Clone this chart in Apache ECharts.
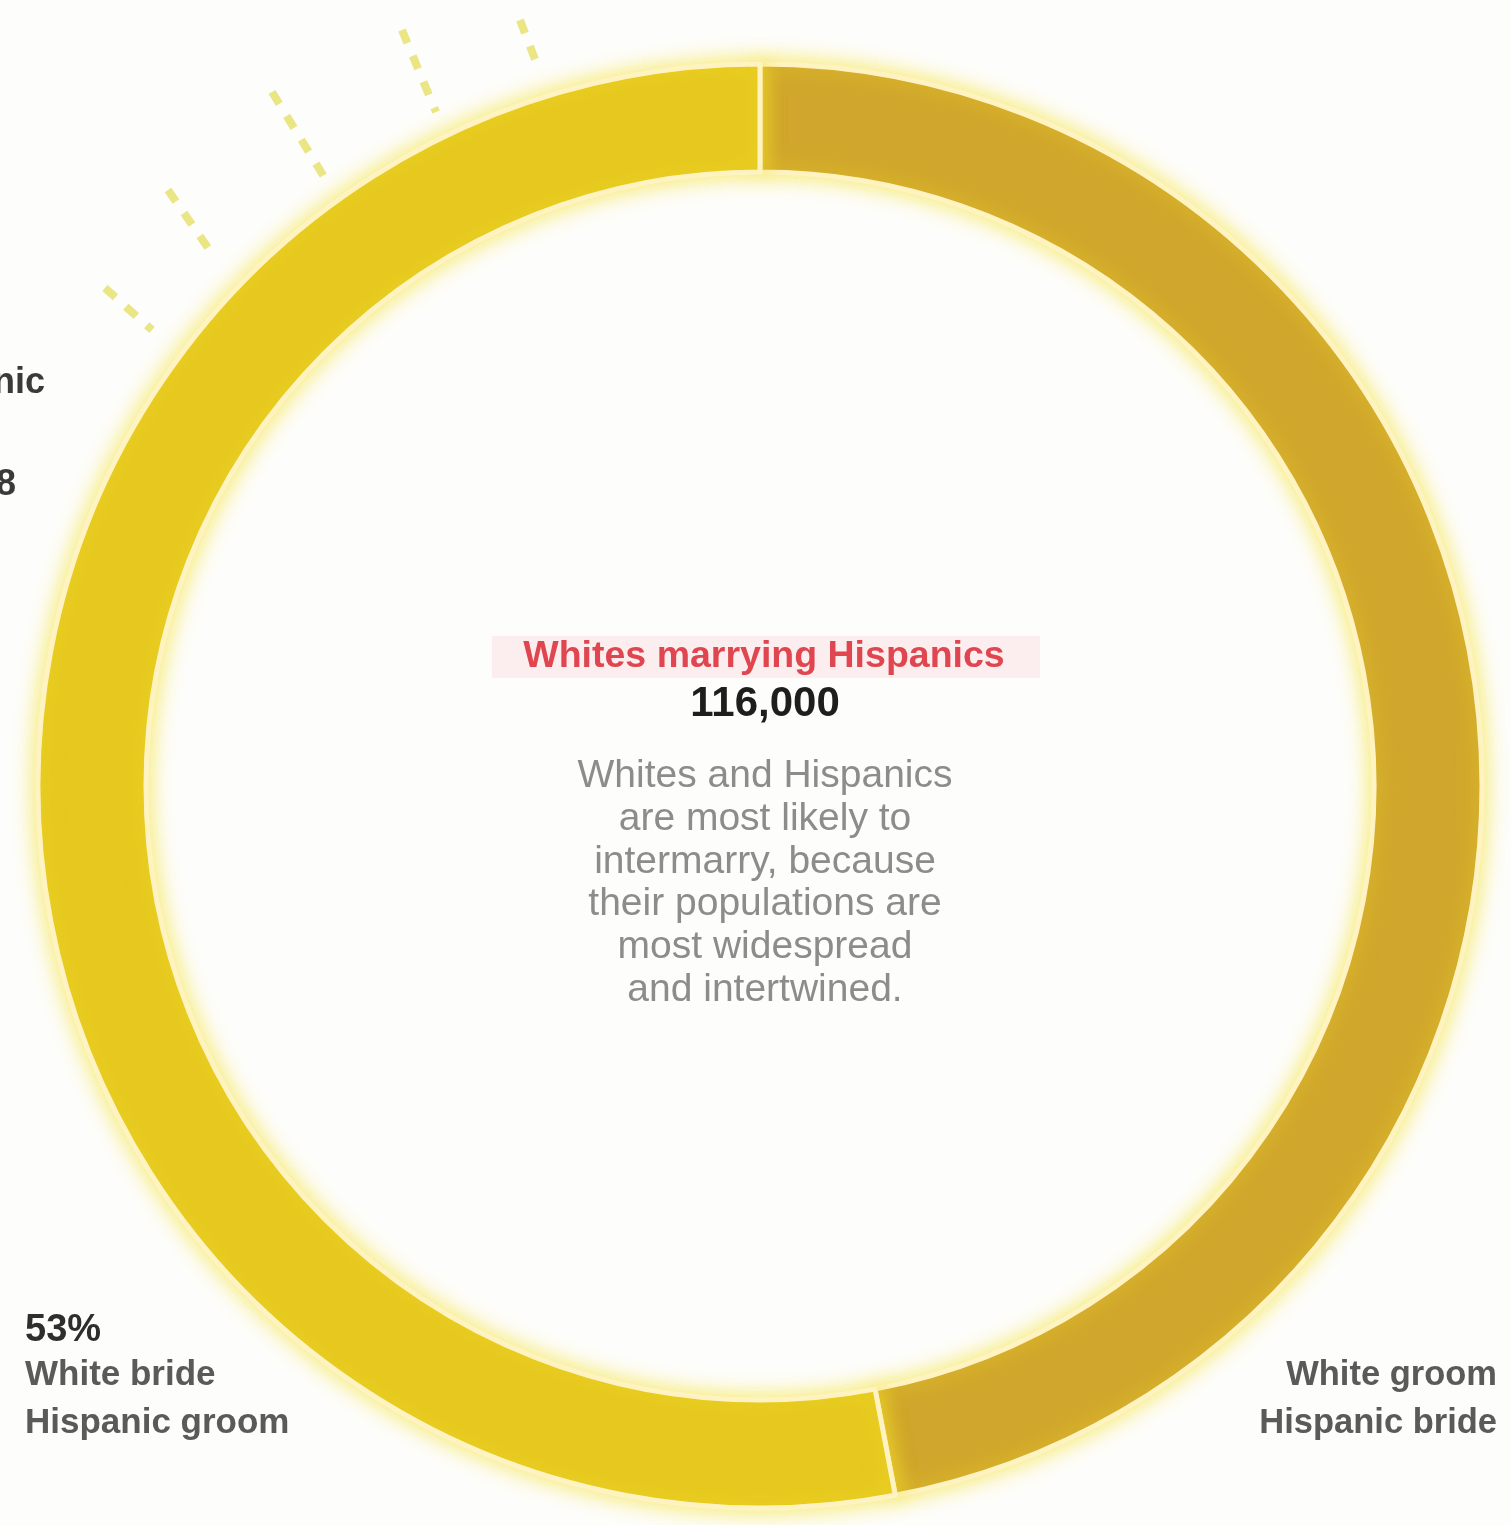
<!DOCTYPE html>
<html>
<head>
<meta charset="utf-8">
<script src="https://cdn.jsdelivr.net/npm/echarts@6/dist/echarts.min.js"></script>
<style>
html,body{margin:0;padding:0;background:#fdfdfb;}
#chart{width:1511px;height:1525px;}
</style>
</head>
<body>
<div id="chart"></div>
<script>
// Data
const categories = ['White groom / Hispanic bride', 'White bride / Hispanic groom'];
const shares = [47, 53];
const sliceColors = ['#d0a62c', '#e6c81f'];
const totalCount = '116,000';
const titleText = 'Whites marrying Hispanics';
const bodyLines = ['Whites and Hispanics', 'are most likely to', 'intermarry, because', 'their populations are', 'most widespread', 'and intertwined.'];

const chart = echarts.init(document.getElementById('chart'));
const FONT = '"Liberation Sans", Arial, Helvetica, sans-serif';

const cx = 760, cy = 786;

const graphics = [
  // partial text from neighbouring panel
  {type:'text', style:{text:'Hispanic', x:45, y:383, align:'right', verticalAlign:'middle', font:'bold 36px ' + FONT, fill:'#3a3a3a'}},
  {type:'text', style:{text:'2008', x:16, y:485, align:'right', verticalAlign:'middle', font:'bold 36px ' + FONT, fill:'#3a3a3a'}},
  // pink highlight behind title
  {type:'rect', shape:{x:492, y:636, width:548, height:42}, style:{fill:'rgba(250,215,220,0.4)'}},
  {type:'text', style:{text:titleText, x:764, y:657, align:'center', verticalAlign:'middle', font:'bold 37.5px ' + FONT, fill:'#e0464f'}},
  {type:'text', style:{text:totalCount, x:765, y:704, align:'center', verticalAlign:'middle', font:'bold 42px ' + FONT, fill:'#1e1e1e'}},
  {type:'text', style:{text:bodyLines.join('\n'), x:765, y:755, align:'center', verticalAlign:'top', font:'39px ' + FONT, lineHeight:42.7, fill:'#8c8c8c'}},
  // slice labels
  {type:'text', style:{text: shares[1] + '%', x:25, y:1331, align:'left', verticalAlign:'middle', font:'bold 38px ' + FONT, fill:'#2e2e2e'}},
  {type:'text', style:{text:'White bride\nHispanic groom', x:25, y:1351, align:'left', verticalAlign:'top', font:'bold 35px ' + FONT, lineHeight:48, fill:'#5a5a5a'}},
  {type:'text', style:{text:'White groom\nHispanic bride', x:1497, y:1351, align:'right', verticalAlign:'top', font:'bold 34.5px ' + FONT, lineHeight:48, fill:'#5a5a5a'}}
];

// faint dashed decorative rays at top-left
const rays = [[105,288,152,330],[168,190,215,258],[272,92,326,180],[402,30,436,112],[520,20,536,62]];
rays.forEach(r => graphics.push({type:'line', z:-1, shape:{x1:r[0],y1:r[1],x2:r[2],y2:r[3]}, style:{stroke:'rgba(225,220,80,0.7)', lineWidth:8, lineDash:[14,14]}}));

chart.setOption({
  backgroundColor:'#fdfdfb',
  animation:false,
  series:[{
    type:'pie',
    center:[cx, cy],
    radius:[614, 722],
    startAngle:90,
    clockwise:true,
    label:{show:false},
    labelLine:{show:false},
    emphasis:{disabled:true},
    itemStyle:{borderColor:'#fff3c2', borderWidth:5, shadowBlur:22, shadowColor:'rgba(245,225,40,0.75)'},
    data: categories.map((c,i)=>({name:c, value:shares[i], itemStyle:{color:sliceColors[i]}}))
  }],
  graphic: graphics
});
</script>
</body>
</html>
